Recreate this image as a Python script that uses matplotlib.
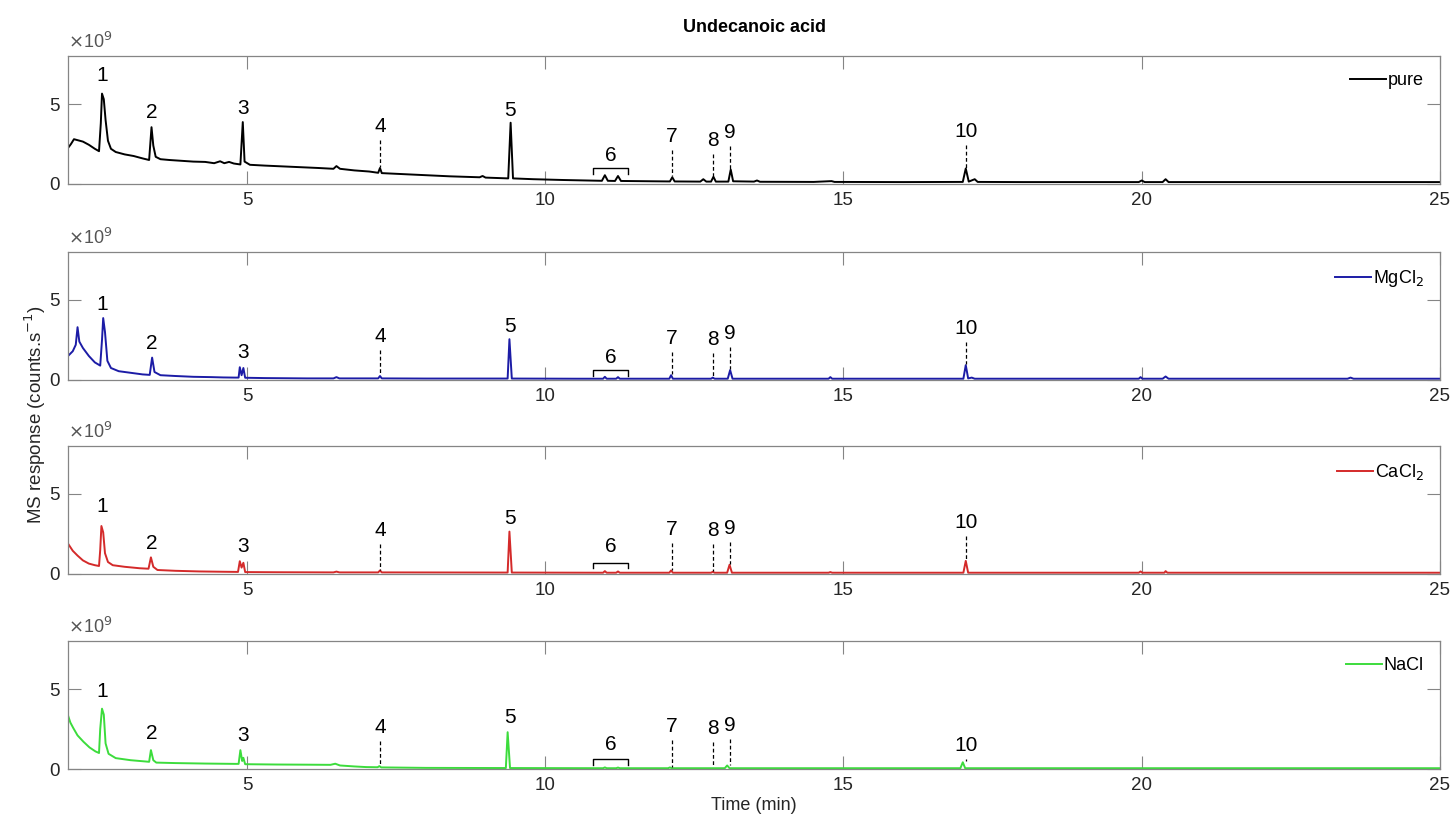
import numpy as np
import matplotlib
matplotlib.use("Agg")
import matplotlib.pyplot as plt

plt.rcParams['font.family'] = ['Liberation Sans', 'DejaVu Sans']

# ---------------- data (intensities in units of 1e9 counts/s) ----------------
pure_trace = [
    (2.00, 2.25), (2.05, 2.50), (2.10, 2.80), (2.15, 2.75), (2.25, 2.65), (2.35, 2.45),
    (2.45, 2.20), (2.52, 2.05), (2.55, 3.80), (2.57, 5.65), (2.60, 5.30), (2.63, 4.00),
    (2.67, 2.70), (2.72, 2.20), (2.80, 2.00), (2.95, 1.85), (3.10, 1.75), (3.25, 1.60),
    (3.36, 1.50), (3.40, 3.55), (3.43, 2.40), (3.47, 1.70), (3.55, 1.55), (3.70, 1.50),
    (3.90, 1.45), (4.10, 1.40), (4.30, 1.38), (4.45, 1.30), (4.55, 1.42), (4.62, 1.30),
    (4.70, 1.38), (4.78, 1.28), (4.89, 1.22), (4.93, 3.87), (4.96, 1.40), (5.05, 1.20),
    (5.30, 1.15), (5.60, 1.10), (5.90, 1.05), (6.20, 1.00), (6.45, 0.95), (6.50, 1.12),
    (6.56, 0.95), (6.80, 0.85), (7.05, 0.78), (7.20, 0.70), (7.23, 1.00), (7.26, 0.68),
    (7.60, 0.62), (8.00, 0.55), (8.40, 0.48), (8.90, 0.42), (8.95, 0.50), (9.00, 0.40),
    (9.38, 0.35), (9.42, 3.83), (9.46, 0.35), (9.80, 0.30), (10.3, 0.25), (10.95, 0.20),
    (11.00, 0.55), (11.05, 0.20), (11.17, 0.19), (11.22, 0.50), (11.27, 0.19), (11.80, 0.17),
    (12.09, 0.16), (12.13, 0.42), (12.17, 0.16), (12.60, 0.15), (12.65, 0.30), (12.70, 0.15),
    (12.78, 0.15), (12.82, 0.45), (12.86, 0.15), (13.07, 0.15), (13.11, 0.90), (13.15, 0.17),
    (13.50, 0.15), (13.55, 0.22), (13.60, 0.14), (14.50, 0.13), (14.80, 0.18), (14.85, 0.13),
    (16.00, 0.12), (17.00, 0.13), (17.05, 0.97), (17.10, 0.15), (17.20, 0.30), (17.25, 0.13),
    (18.00, 0.12), (19.00, 0.12), (19.95, 0.12), (20.00, 0.22), (20.05, 0.12), (20.35, 0.12),
    (20.40, 0.30), (20.45, 0.12), (22.00, 0.12), (23.50, 0.12), (25.00, 0.12),
]

mgcl2_trace = [
    (2.00, 1.50), (2.08, 1.80), (2.13, 2.20), (2.16, 3.30), (2.19, 2.40), (2.25, 2.00),
    (2.35, 1.50), (2.45, 1.10), (2.54, 0.90), (2.57, 2.50), (2.59, 3.87), (2.62, 3.00),
    (2.66, 1.20), (2.72, 0.75), (2.85, 0.55), (3.05, 0.45), (3.25, 0.35), (3.37, 0.32),
    (3.41, 1.40), (3.45, 0.50), (3.55, 0.30), (3.80, 0.25), (4.10, 0.20), (4.40, 0.18),
    (4.60, 0.16), (4.80, 0.15), (4.86, 0.15), (4.88, 0.80), (4.91, 0.30), (4.94, 0.75),
    (4.97, 0.14), (5.30, 0.12), (6.00, 0.10), (6.45, 0.10), (6.50, 0.18), (6.55, 0.10),
    (7.20, 0.10), (7.23, 0.25), (7.26, 0.10), (8.00, 0.09), (9.37, 0.09), (9.40, 2.55),
    (9.44, 0.09), (10.5, 0.08), (10.97, 0.08), (11.00, 0.20), (11.03, 0.08), (11.19, 0.08),
    (11.22, 0.18), (11.25, 0.08), (12.08, 0.08), (12.11, 0.30), (12.14, 0.08), (12.78, 0.08),
    (12.81, 0.15), (12.84, 0.08), (13.06, 0.08), (13.10, 0.62), (13.14, 0.08), (14.75, 0.08),
    (14.78, 0.18), (14.81, 0.08), (17.01, 0.08), (17.05, 0.93), (17.09, 0.10), (17.15, 0.15),
    (17.20, 0.08), (19.95, 0.08), (19.98, 0.18), (20.01, 0.08), (20.35, 0.08), (20.40, 0.22),
    (20.45, 0.08), (23.45, 0.08), (23.50, 0.15), (23.55, 0.08), (25.00, 0.08),
]

cacl2_trace = [
    (2.00, 1.90), (2.08, 1.45), (2.16, 1.15), (2.25, 0.85), (2.35, 0.65), (2.45, 0.55),
    (2.52, 0.50), (2.54, 1.50), (2.56, 3.00), (2.59, 2.60), (2.62, 1.30), (2.67, 0.75),
    (2.75, 0.55), (2.95, 0.45), (3.20, 0.36), (3.35, 0.33), (3.39, 1.04), (3.43, 0.45),
    (3.50, 0.25), (3.80, 0.20), (4.20, 0.16), (4.60, 0.14), (4.85, 0.13), (4.88, 0.80),
    (4.91, 0.40), (4.94, 0.70), (4.97, 0.12), (5.50, 0.11), (6.45, 0.10), (6.50, 0.15),
    (6.55, 0.10), (7.20, 0.10), (7.23, 0.22), (7.26, 0.10), (9.37, 0.09), (9.40, 2.65),
    (9.44, 0.09), (10.97, 0.08), (11.00, 0.18), (11.03, 0.08), (11.19, 0.08), (11.22, 0.16),
    (11.25, 0.08), (12.08, 0.08), (12.11, 0.22), (12.14, 0.08), (12.78, 0.08), (12.81, 0.14),
    (12.84, 0.08), (13.05, 0.08), (13.09, 0.58), (13.13, 0.08), (14.75, 0.08), (14.78, 0.12),
    (14.81, 0.08), (17.01, 0.08), (17.05, 0.82), (17.09, 0.08), (19.95, 0.08), (19.98, 0.16),
    (20.01, 0.08), (20.38, 0.08), (20.40, 0.18), (20.43, 0.08), (25.00, 0.08),
]

nacl_trace = [
    (2.00, 3.35), (2.04, 2.90), (2.09, 2.55), (2.16, 2.10), (2.26, 1.70), (2.36, 1.35),
    (2.46, 1.10), (2.52, 1.00), (2.54, 2.50), (2.57, 3.77), (2.60, 3.40), (2.63, 1.60),
    (2.68, 0.95), (2.80, 0.68), (3.05, 0.55), (3.30, 0.47), (3.36, 0.45), (3.39, 1.18),
    (3.43, 0.55), (3.48, 0.40), (3.80, 0.37), (4.30, 0.34), (4.80, 0.32), (4.86, 0.32),
    (4.89, 1.18), (4.92, 0.50), (4.94, 0.70), (4.97, 0.30), (5.50, 0.28), (6.00, 0.27),
    (6.40, 0.26), (6.48, 0.33), (6.56, 0.22), (6.80, 0.16), (7.00, 0.12), (7.19, 0.11),
    (7.22, 0.18), (7.25, 0.10), (8.00, 0.07), (9.34, 0.06), (9.37, 2.30), (9.41, 0.06),
    (10.97, 0.05), (11.00, 0.10), (11.03, 0.05), (11.19, 0.05), (11.22, 0.09), (11.25, 0.05),
    (12.06, 0.05), (12.09, 0.10), (12.12, 0.05), (13.01, 0.05), (13.05, 0.22), (13.09, 0.05),
    (16.96, 0.05), (17.00, 0.42), (17.04, 0.05), (20.00, 0.05), (25.00, 0.05),
]

series_names = ['pure', 'MgCl$_2$', 'CaCl$_2$', 'NaCl']
series_colors = ['#000000', '#1c1ca6', '#d42a2a', '#3cdc3c']
traces = [pure_trace, mgcl2_trace, cacl2_trace, nacl_trace]

peak_labels = ['1', '2', '3', '4', '5', '6', '7', '8', '9', '10']
peak_times = [2.57, 3.40, 4.93, 7.23, 9.41, 11.10, 12.12, 12.81, 13.10, 17.05]
dashed_peaks = ['4', '7', '8', '9', '10']
# label heights (text centre) per panel
label_heights = [
    [6.8, 4.5, 4.7, 3.6, 4.6, 1.8, 3.0, 2.7, 3.25, 3.3],
    [4.75, 2.3, 1.7, 2.7, 3.35, 1.4, 2.6, 2.55, 2.9, 3.2],
    [4.2, 1.9, 1.7, 2.7, 3.5, 1.7, 2.8, 2.7, 2.85, 3.2],
    [4.85, 2.2, 2.1, 2.6, 3.2, 1.5, 2.65, 2.55, 2.7, 1.45],
]
bracket_span = (10.80, 11.39)
bracket_heights = [1.0, 0.62, 0.70, 0.62]

x_limits = (2, 25)
y_limits = (0, 8)
x_ticks = [5, 10, 15, 20, 25]
y_ticks = [0, 5]

# ---------------- figure ----------------
W, H = 1455, 818
fig = plt.figure(figsize=(W / 100, H / 100), dpi=100)

axis_gray = '#858585'
text_gray = '#262626'
ax_left = 68 / W
ax_width = (1440 - 68) / W
ax_tops = [56, 252, 446, 641]
ax_h = 128

for i, (trace, name, col) in enumerate(zip(traces, series_names, series_colors)):
    top = ax_tops[i]
    ax = fig.add_axes([ax_left, 1 - (top + ax_h) / H, ax_width, ax_h / H])
    t = np.array([p[0] for p in trace])
    v = np.array([p[1] for p in trace])
    ax.plot(t, v, color=col, lw=1.4, label=name)
    ax.set_xlim(*x_limits)
    ax.set_ylim(*y_limits)
    ax.set_xticks(x_ticks)
    ax.set_yticks(y_ticks)
    ax.tick_params(direction='in', length=9.5, width=0.8, color=axis_gray,
                   labelcolor=text_gray, labelsize=13.5, top=True, right=True, pad=6)
    for s in ax.spines.values():
        s.set_color(axis_gray)
        s.set_linewidth(0.9)
    ax.text(0.0, 1.03, r'$\times$10$^{9}$', transform=ax.transAxes, fontsize=13,
            color='#555555', ha='left', va='bottom')

    ax.legend(loc='upper right', frameon=False, fontsize=13, handlelength=2.0,
              handletextpad=0.1, borderaxespad=0.5)

    # peak labels
    for lab, pt, ly in zip(peak_labels, peak_times, label_heights[i]):
        ax.text(pt, ly, lab, ha='center', va='center', fontsize=15, color='black')
        if lab in dashed_peaks:
            mask = (t > pt - 0.07) & (t < pt + 0.07)
            ptop = v[mask].max() if mask.any() else np.interp(pt, t, v)
            ax.plot([pt, pt], [ly - 0.85, ptop + 0.05], color='black', lw=0.9,
                    ls=(0, (3, 2)))
        if lab == '6':
            bh = bracket_heights[i]
            x0, x1 = bracket_span
            ax.plot([x0, x0, x1, x1], [bh - 0.35, bh, bh, bh - 0.35], color='black', lw=1.0)

fig.text(0.5183, 1 - 28 / H, 'Undecanoic acid', ha='center', va='center',
         fontsize=13, fontweight='bold')
fig.text(0.5183, 1 - 806 / H, 'Time (min)', ha='center', va='center', fontsize=13,
         color=text_gray)
fig.text(35 / W, 1 - 415 / H, 'MS response (counts.s$^{-1}$)', ha='center', va='center',
         rotation=90, fontsize=13.5, color=text_gray)

fig.savefig('out.png', dpi=100)
